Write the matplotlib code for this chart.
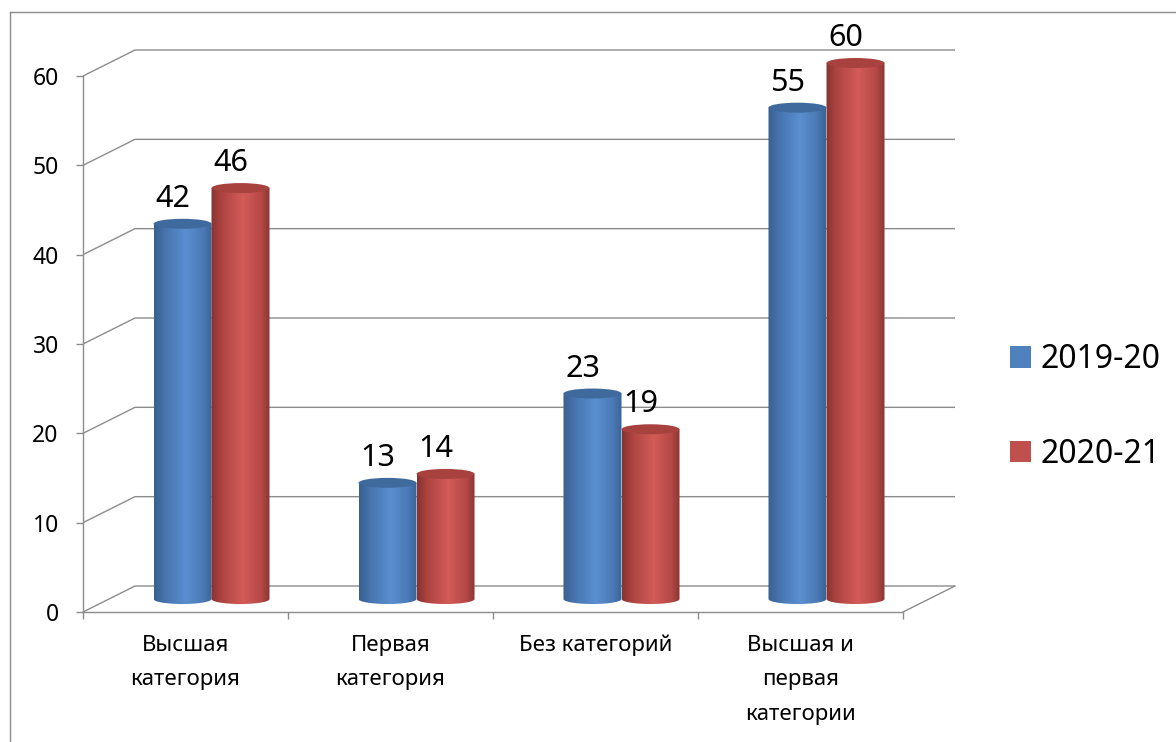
import numpy as np
import matplotlib
matplotlib.use("Agg")
import matplotlib.pyplot as plt
from matplotlib.patches import Ellipse, Polygon, Patch
from matplotlib.lines import Line2D
from matplotlib.colors import LinearSegmentedColormap

plt.rcParams['font.family'] = ['Noto Sans', 'DejaVu Sans']

# ---------------- data ----------------
categories = ["Высшая\nкатегория", "Первая\nкатегория", "Без категорий",
              "Высшая и\nпервая\nкатегории"]
series_names = ["2019-20", "2020-21"]
values_2019_20 = [42, 13, 23, 55]
values_2020_21 = [46, 14, 19, 60]
y_ticks = [0, 10, 20, 30, 40, 50, 60]

# ---------------- style ----------------
W, H = 1176, 742
GRID = "#8c8c8c"
base_colors = ["#4F81BD", "#C0504D"]
body_stops = [
    ["#39608f", "#4673ad", "#5a8fd0", "#4b7ab6", "#3a6497"],
    ["#873331", "#ad4441", "#d45b58", "#b54946", "#8a3634"],
]
top_colors = ["#3f6a9d", "#a7423f"]

fig = plt.figure(figsize=(W / 100, H / 100), dpi=100)
ax = fig.add_axes([83 / W, 130 / H, 820 / W, 536 / H])
ax.set_facecolor("none")

n_cat = len(categories)
y_max = y_ticks[-1]
px_x = 820 / n_cat
px_y = 536 / y_max
DX = 52 / px_x          # depth offset in x units
DY = 26 / px_y          # depth offset in y units
bar_w = 58 / px_x
ell_h = 10 / px_y

# back wall + left wall gridlines
for v in y_ticks:
    ax.plot([0, DX, n_cat + DX], [v, v + DY, v + DY], color=GRID, lw=1.0,
            zorder=1, clip_on=False, solid_capstyle="butt")
# floor right edge
ax.plot([n_cat, n_cat + DX], [0, DY], color=GRID, lw=1.0, zorder=1, clip_on=False)

series = [values_2019_20, values_2020_21]
y0 = DY / 2
for i in range(n_cat):
    for j, vals in enumerate(series):
        v = vals[i]
        cx = i + 0.5 + DX / 2 + (j - 0.5) * bar_w
        yt = v + DY / 2
        xl, xr = cx - bar_w / 2, cx + bar_w / 2
        t = np.linspace(0, np.pi, 60)
        arc = np.column_stack([cx + bar_w / 2 * np.cos(t), y0 - ell_h / 2 * np.sin(t)])
        verts = np.vstack([[[xl, yt], [xr, yt]], arc, [[xl, y0]]])
        clip = Polygon(verts, closed=True, transform=ax.transData)
        cmap = LinearSegmentedColormap.from_list(
            "c", list(zip([0, 0.18, 0.55, 0.85, 1.0], body_stops[j])))
        grad = np.tile(np.linspace(0, 1, 128), (2, 1))
        im = ax.imshow(grad, cmap=cmap, extent=[xl, xr, y0 - ell_h / 2, yt],
                       aspect="auto", interpolation="bilinear", zorder=3 + i)
        im.set_clip_box(fig.bbox)
        im.set_clip_path(clip)
        top = Ellipse((cx, yt), bar_w, ell_h, facecolor=top_colors[j],
                      edgecolor="none", zorder=3.5 + i, clip_on=False)
        ax.add_patch(top)
        ax.annotate(str(v), xy=(cx, yt), xytext=(-10, 17),
                    textcoords="offset pixels", ha="center", va="baseline",
                    fontsize=22, color="black", zorder=20, annotation_clip=False)

ax.set_xlim(0, n_cat)
ax.set_ylim(0, y_max)

for s in ["top", "right"]:
    ax.spines[s].set_visible(False)
for s in ["left", "bottom"]:
    ax.spines[s].set_color(GRID)
    ax.spines[s].set_linewidth(1.0)

ax.set_yticks(y_ticks)
ax.set_yticklabels([str(t) for t in y_ticks])
ax.tick_params(axis="y", direction="out", length=5, width=1, color=GRID,
               labelsize=16.5, pad=12.5, labelcolor="black")

ax.set_xticks(range(n_cat + 1))
ax.set_xticklabels([])
ax.set_xticks(np.arange(n_cat) + 0.5, minor=True)
ax.set_xticklabels(categories, minor=True, fontsize=16, linespacing=1.84)
ax.tick_params(axis="x", which="major", direction="out", length=5, width=1, color=GRID)
ax.tick_params(axis="x", which="minor", length=0, pad=16.5, labelcolor="black")

handles = [Patch(facecolor=c, edgecolor="none") for c in base_colors]
fig.legend(handles, series_names, loc="center left",
           bbox_to_anchor=(1010 / W, 1 - 407 / H), frameon=False, fontsize=23,
           handlelength=0.66, handleheight=0.66, handletextpad=0.28,
           labelspacing=1.92, borderpad=0, borderaxespad=0)

# outer chart border
fig.add_artist(Line2D([10 / W, 10 / W], [0, 1 - 12 / H], color=GRID, lw=1.0,
                      transform=fig.transFigure))
fig.add_artist(Line2D([10 / W, 1], [1 - 12 / H, 1 - 12 / H], color=GRID, lw=1.0,
                      transform=fig.transFigure))

fig.savefig("out.png", dpi=100)
